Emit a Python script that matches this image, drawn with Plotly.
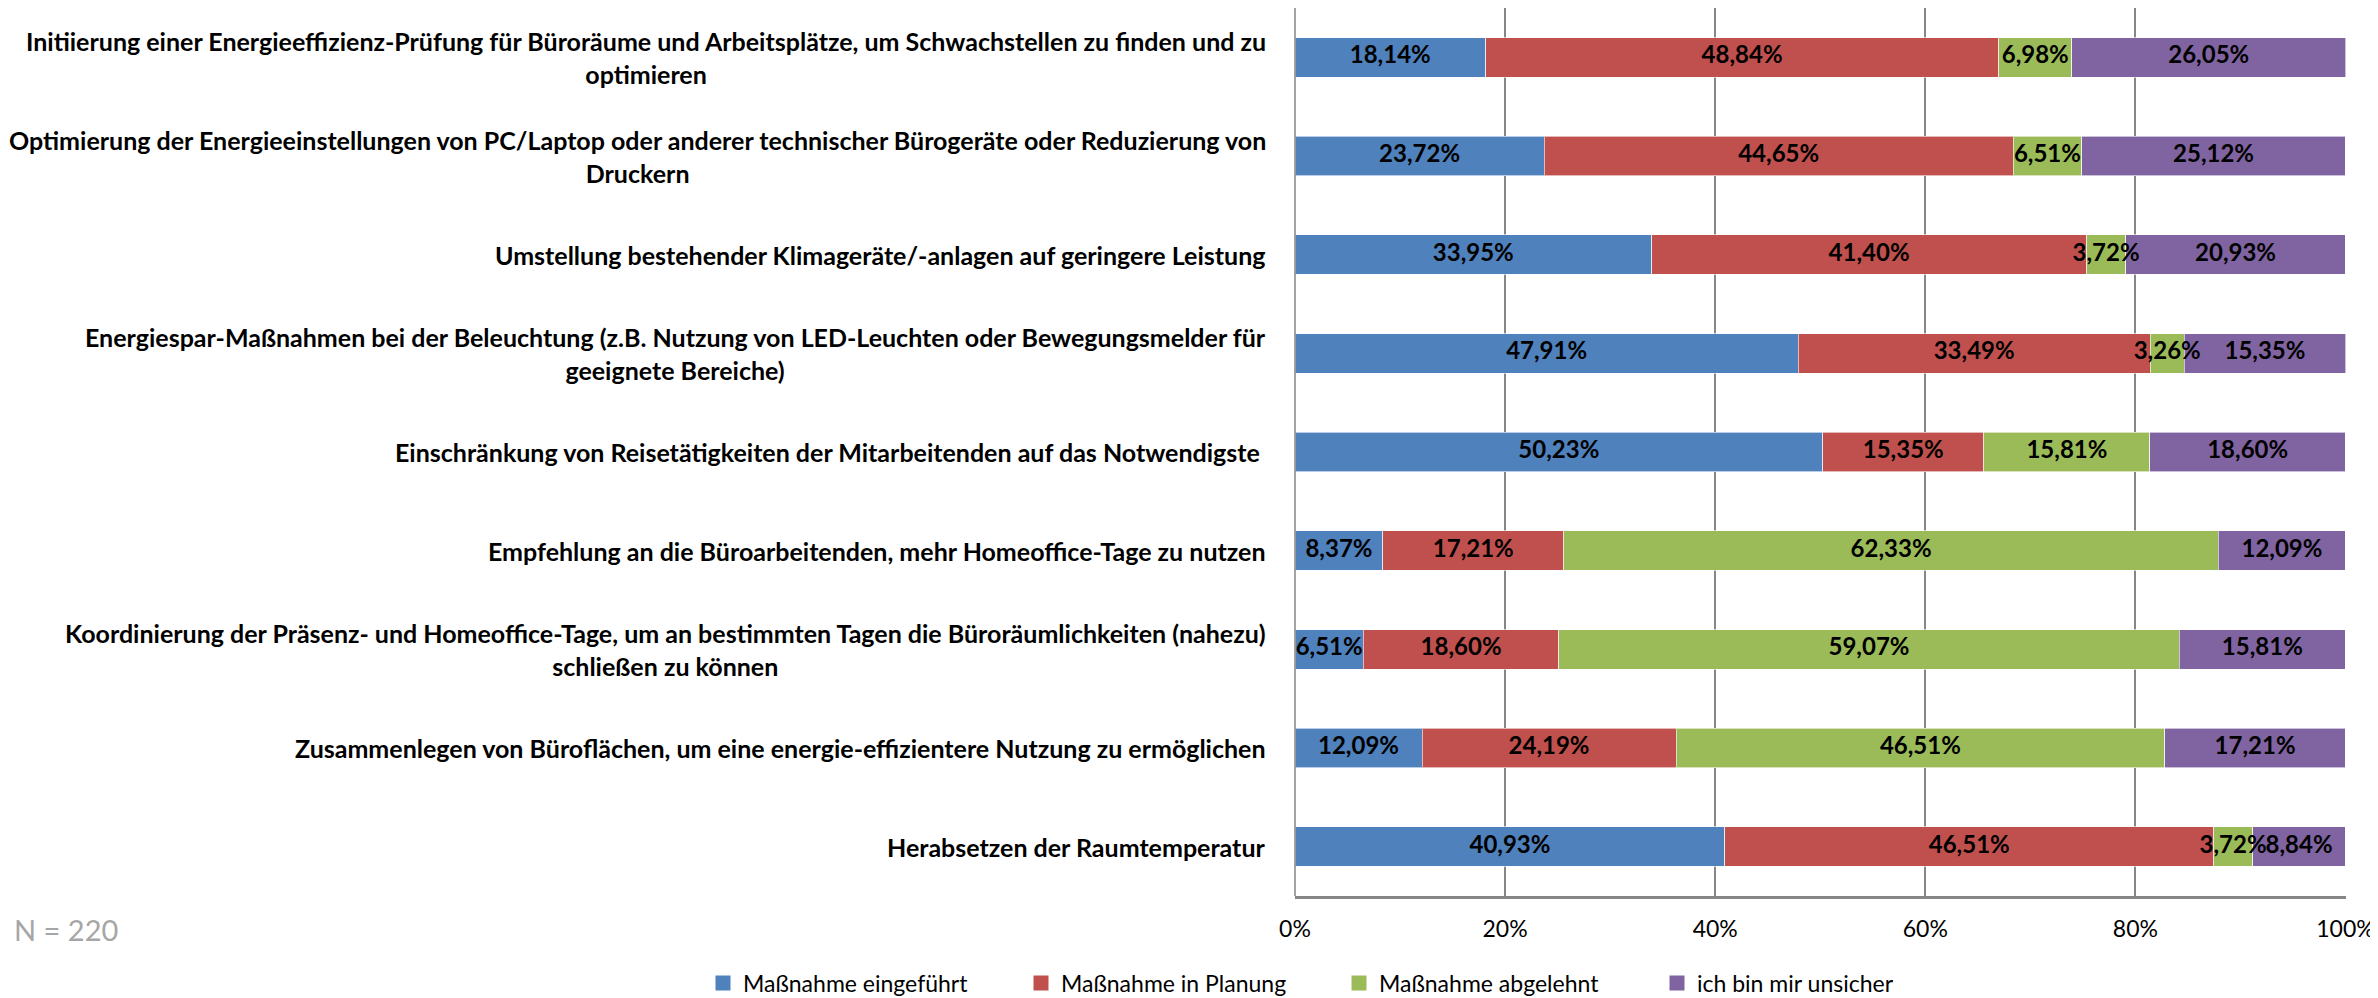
import plotly.graph_objects as go

categories = [
    "Initiierung einer Energieeffizienz-Prüfung für Büroräume und Arbeitsplätze, um Schwachstellen zu finden und zu<br>optimieren",
    "Optimierung der Energieeinstellungen von PC/Laptop oder anderer technischer Bürogeräte oder Reduzierung von<br>Druckern",
    "Umstellung bestehender Klimageräte/-anlagen auf geringere Leistung",
    "Energiespar-Maßnahmen bei der Beleuchtung (z.B. Nutzung von LED-Leuchten oder Bewegungsmelder für<br>geeignete Bereiche)",
    "Einschränkung von Reisetätigkeiten der Mitarbeitenden auf das Notwendigste&nbsp;",
    "Empfehlung an die Büroarbeitenden, mehr Homeoffice-Tage zu nutzen",
    "Koordinierung der Präsenz- und Homeoffice-Tage, um an bestimmten Tagen die Büroräumlichkeiten (nahezu)<br>schließen zu können",
    "Zusammenlegen von Büroflächen, um eine energie-effizientere Nutzung zu ermöglichen",
    "Herabsetzen der Raumtemperatur",
]

series_names = ["Maßnahme eingeführt", "Maßnahme in Planung", "Maßnahme abgelehnt", "ich bin mir unsicher"]
eingefuehrt = [18.14, 23.72, 33.95, 47.91, 50.23, 8.37, 6.51, 12.09, 40.93]
planung = [48.84, 44.65, 41.40, 33.49, 15.35, 17.21, 18.60, 24.19, 46.51]
abgelehnt = [6.98, 6.51, 3.72, 3.26, 15.81, 62.33, 59.07, 46.51, 3.72]
unsicher = [26.05, 25.12, 20.93, 15.35, 18.60, 12.09, 15.81, 17.21, 8.84]

x_ticks = [0, 0.2, 0.4, 0.6, 0.8, 1.0]
note = "N = 220"

colors = ["#4F81BD", "#C0504D", "#9BBB59", "#8064A2"]
FONT = "Lato, Carlito, Liberation Sans, sans-serif"

all_series = [eingefuehrt, planung, abgelehnt, unsicher]

fig = go.Figure()
# bars
for name, vals, col in zip(series_names, all_series, colors):
    fig.add_trace(go.Bar(
        y=categories,
        x=[v / 100 for v in vals],
        name=name,
        orientation="h",
        marker=dict(color=col, line=dict(color="rgba(255,255,255,0.6)", width=1)),
        showlegend=False,
        hoverinfo="skip",
    ))

# value labels on top of all bars (so overflowing text is not hidden)
base = [0.0] * len(categories)
for name, vals in zip(series_names, all_series):
    mids = [b + v / 200 for b, v in zip(base, vals)]
    fig.add_trace(go.Scatter(
        y=categories, x=mids, mode="text",
        text=[f"{v:.2f}".replace(".", ",") + "%" for v in vals],
        textposition="middle center",
        textfont=dict(family=FONT, size=24, color="black", weight="bold"),
        showlegend=False, cliponaxis=False, hoverinfo="skip",
    ))
    base = [b + v / 100 for b, v in zip(base, vals)]

# legend entries with larger square symbols
for name, col in zip(series_names, colors):
    fig.add_trace(go.Scatter(
        x=[None], y=[None], mode="markers", name=name,
        marker=dict(symbol="square", size=15, color=col),
        showlegend=True,
    ))

for c in categories:
    fig.add_annotation(
        x=0, xref="paper", y=c, yref="y",
        text="<b>" + c + "</b>",
        xanchor="right", yanchor="middle", align="center",
        xshift=-27, showarrow=False,
        font=dict(family=FONT, size=25, color="black"),
    )

fig.add_annotation(
    x=(120 - 1295) / 1051, xref="paper", y=-0.038, yref="paper",
    text=note, xanchor="right", yanchor="middle", showarrow=False,
    font=dict(family=FONT, size=29, color="#A6A6A6"),
)

fig.update_layout(
    width=2370, height=990,
    barmode="stack", bargap=0.6,
    margin=dict(l=1287, r=32, t=0, b=102, autoexpand=False),
    plot_bgcolor="white", paper_bgcolor="white",
    font=dict(family=FONT, color="black"),
    legend=dict(
        orientation="h", x=(703 - 1295) / 1051, xanchor="left",
        y=-0.098, yanchor="middle", yref="paper",
        font=dict(family=FONT, size=23, color="black"),
        traceorder="normal",
        itemwidth=30,
        entrywidth=273, entrywidthmode="pixels",
    ),
    showlegend=True,
)
fig.update_xaxes(
    range=[0, 1.0005], tickvals=x_ticks, tickformat=".0%",
    showgrid=True, gridcolor="#868686", gridwidth=1.5,
    showline=True, linecolor="#868686", linewidth=3,
    ticks="", tickfont=dict(family=FONT, size=23, color="black"),
    ticklabelstandoff=10, zeroline=False,
)
fig.update_yaxes(
    autorange="reversed", showticklabels=False, showgrid=False,
    showline=False, zeroline=False,
)
fig.add_shape(type="line", xref="paper", yref="paper", x0=0, x1=0, y0=0, y1=1,
              line=dict(color="#868686", width=1.5))

fig.write_html("out.html")
